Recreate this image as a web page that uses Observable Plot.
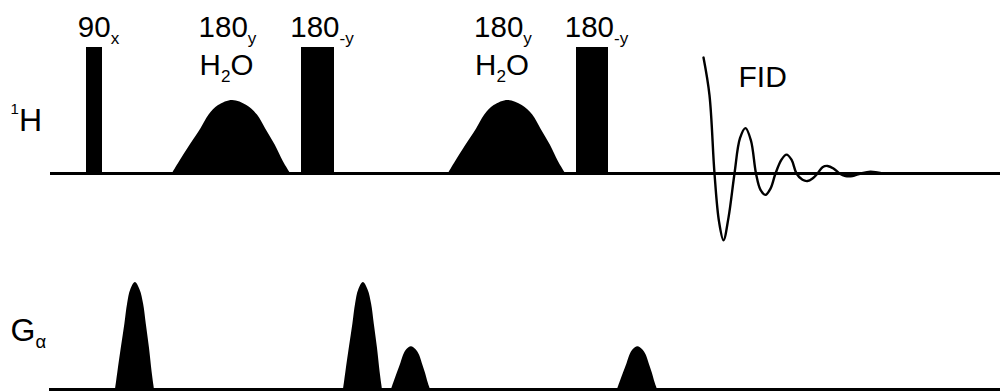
<!DOCTYPE html>
<html>
<head>
<meta charset="utf-8">
<script src="https://cdn.jsdelivr.net/npm/d3@7"></script>
<script src="https://cdn.jsdelivr.net/npm/@observablehq/plot@0.6"></script>
<style>
  html, body { margin: 0; padding: 0; background: #fff; }
  #chart svg { display: block; }
</style>
</head>
<body>
<div id="chart"></div>
<script>
// Excitation-sculpting water suppression: ¹H pulses and field gradients.
// Time runs along x (arbitrary units), amplitude along y (hard pulse = 100).

// Channels: label (with _{sub} / ^{sup} markup) and the amplitude of each baseline
const channelName = ["^{1}H", "G_{α}"];
const channelBase = [0, -171.5];

// Hard ¹H pulses
const hardAngle  = ["90", "180", "180"];
const hardPhase  = ["x", "-y", "-y"];
const hardStart  = [86, 301, 576];
const hardLength = [16, 33, 32];
const hardAmp    = 100;

// Water-selective soft 180° pulses
const softAngle  = ["180", "180"];
const softPhase  = ["y", "y"];
const softTarget = ["H_{2}O", "H_{2}O"];
const softStart  = [172, 448];
const softLength = [118, 117];
const softAmp    = 58;

// Shared lobe profile of the shaped pulses: [fraction of duration, fraction of amplitude]
const lobeProfile = [
  [0, 0], [0.06, 0.16], [0.15, 0.39], [0.24, 0.61], [0.31, 0.80], [0.39, 0.93],
  [0.51, 1], [0.63, 0.93], [0.72, 0.80], [0.79, 0.61], [0.87, 0.39], [0.94, 0.16], [1, 0]
];

// Pulsed field gradients
const gradStart  = [115, 343, 391, 617];
const gradLength = [39, 39, 39, 40];
const gradAmp    = [85, 85, 34, 34];

// Free induction decay
const fidTime = [703, 709, 714, 718.5, 723, 728, 734, 739.5, 745, 750.5, 755.5, 760, 765, 770, 775,
                 781, 786, 791, 796, 802, 807, 812, 817, 822, 827, 833, 839, 845, 852, 860, 870, 882];
const fidAmp  = [92, 62, 0, -38, -53, -35, 0, 28, 36, 26, 0, -13, -17, -12, 0,
                 11, 15, 11, 0, -5, -6, -4, 0, 5, 6, 4, 0, -2, -2, 0, 1.5, 0];

// ---- tables built from the arrays above ----
const [hBase, gBase] = channelBase;

const hard = hardAngle.map((a, i) => ({
  label: `${a}_{${hardPhase[i]}}`,
  x1: hardStart[i], x2: hardStart[i] + hardLength[i],
  mid: hardStart[i] + hardLength[i] / 2
}));

const lobes = (starts, lengths, amps, base, tag) =>
  starts.flatMap((s, i) => lobeProfile.map(([f, a]) => ({
    id: `${tag}${i}`, t: s + f * lengths[i], y1: base, y2: base + a * amps[i]
  })));

const softPts = lobes(softStart, softLength, softStart.map(() => softAmp), hBase, "soft");
const gradPts = lobes(gradStart, gradLength, gradAmp, gBase, "grad");

const soft = softAngle.map((a, i) => ({
  label: `${a}_{${softPhase[i]}}`, target: softTarget[i],
  mid: softStart[i] + softLength[i] / 2
}));

const fid = fidTime.map((t, i) => ({t, a: hBase + fidAmp[i]}));

const channels = channelName.map((name, i) => ({name, base: channelBase[i]}));

const font = "'Liberation Sans', Arial, Helvetica, sans-serif";
const textOpts = {fontFamily: font, fill: "black", lineAnchor: "bottom"};

const chart = Plot.plot({
  width: 1000,
  height: 391,
  margin: 0,
  x: {domain: [0, 1000], axis: null},
  y: {domain: [-173.02, 137.3], axis: null},
  marks: [
    // channel baselines
    Plot.ruleY([hBase], {x1: 50, x2: 1000, stroke: "black", strokeWidth: 3}),
    Plot.ruleY([gBase], {x1: 49, x2: 1000, stroke: "black", strokeWidth: 3}),
    // hard pulses
    Plot.rect(hard, {x1: "x1", x2: "x2", y1: hBase, y2: hBase + hardAmp, fill: "black"}),
    // shaped pulses
    Plot.areaY(softPts, {x: "t", y1: "y1", y2: "y2", z: "id", fill: "black", curve: "catmull-rom"}),
    Plot.areaY(gradPts, {x: "t", y1: "y1", y2: "y2", z: "id", fill: "black", curve: "catmull-rom"}),
    // FID
    Plot.line(fid, {x: "t", y: "a", stroke: "black", strokeWidth: 2.4, curve: "catmull-rom"}),
    // pulse labels
    Plot.text(hard, {x: "mid", y: hBase + 108, text: "label", dx: 4, fontSize: 29.5, textAnchor: "middle", ...textOpts}),
    Plot.text(soft, {x: "mid", y: hBase + 108, text: "label", dx: -4, fontSize: 29.5, textAnchor: "middle", ...textOpts}),
    Plot.text(soft, {x: "mid", y: hBase + 78, text: "target", dx: -5, fontSize: 29.5, textAnchor: "middle", ...textOpts}),
    Plot.text(["FID"], {x: fidTime[0], y: hBase + 69, text: d => d, dx: 35, fontSize: 30, textAnchor: "start", ...textOpts}),
    // channel labels
    Plot.text(channels, {x: 10, y: d => d.base + (d.base === hBase ? 34 : 38.5), text: "name", fontSize: 32, textAnchor: "start", ...textOpts})
  ]
});

document.getElementById("chart").appendChild(chart);

// Turn _{…} and ^{…} markup into subscript / superscript tspans.
function richText(node) {
  const s = node.textContent;
  if (!/[_^]\{/.test(s)) return;
  const fs = parseFloat(getComputedStyle(node).fontSize) || 28;
  const ns = "http://www.w3.org/2000/svg";
  node.textContent = "";
  let shift = 0;
  const add = (str, size, target) => {
    if (!str) return;
    const ts = document.createElementNS(ns, "tspan");
    ts.textContent = str;
    if (size) ts.setAttribute("font-size", size);
    const d = target - shift;
    if (d) ts.setAttribute("dy", d);
    shift = target;
    node.appendChild(ts);
  };
  const re = /([_^])\{([^}]*)\}/g;
  let last = 0, m;
  while ((m = re.exec(s))) {
    add(s.slice(last, m.index), null, 0);
    if (m[1] === "_") add(m[2], fs * 0.58, fs * 0.23);
    else add(m[2], fs * 0.47, -fs * 0.53);
    last = re.lastIndex;
  }
  add(s.slice(last), null, 0);
}
chart.querySelectorAll("text").forEach(richText);
</script>
</body>
</html>
